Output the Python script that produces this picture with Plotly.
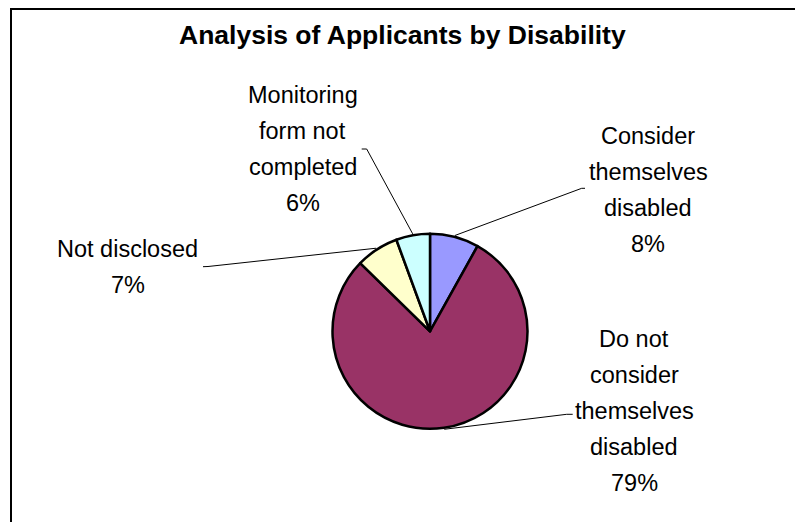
import math
import plotly.graph_objects as go

# ---- data ----
categories = ["Consider themselves disabled", "Do not consider themselves disabled",
              "Not disclosed", "Monitoring form not completed"]
label_lines = [["Consider", "themselves", "disabled"],
               ["Do not", "consider", "themselves", "disabled"],
               ["Not disclosed"],
               ["Monitoring", "form not", "completed"]]
values = [8.1, 79.2, 7.1, 5.6]
colors = ["#9999FF", "#993366", "#FFFFCC", "#CCFFFF"]
title = "Analysis of Applicants by Disability"

# ---- layout constants (window pixels) ----
OFF = 8                      # default page body margin
W, H = 803 - OFF, 522 - OFF  # figure size
CX, CY, R = 430, 331.3, 97.5
FONT = "Liberation Sans, Arial, sans-serif"
FS = 23.5
TFS = 26.5
SPACING = 36

# label block placement: (center x, first baseline y)
label_pos = [(648, 144), (634, 347), (127.5, 257), (302.5, 103)]
# where leader lines meet the labels: (bend point, end point)
leader_end = [((581.7, 188.3), (585, 188.3)),
              ((566.7, 414.3), (572.7, 414.3)),
              ((208, 266.5), (203, 266.7)),
              ((366.7, 149), (361.7, 149))]


def px(x, y):
    return (x - OFF) / W, 1 - (y - OFF) / H


fig = go.Figure()
fig.add_trace(go.Pie(
    labels=categories, values=values, sort=False, direction="clockwise", rotation=0,
    marker=dict(colors=colors, line=dict(color="black", width=2.5)),
    textinfo="none", hoverinfo="label+percent", showlegend=False,
    domain=dict(x=[px(CX - R, 0)[0], px(CX + R, 0)[0]],
                y=[px(0, CY + R)[1], px(0, CY - R)[1]]),
))

annotations = []
shapes = []
total = sum(values)
cum = 0
for i, v in enumerate(values):
    pct = f"{round(100 * v / total)}%"
    lines = label_lines[i] + [pct]
    cx, by = label_pos[i]
    for k, t in enumerate(lines):
        xx, yy = px(cx, by + k * SPACING - 0.36 * FS)
        annotations.append(dict(x=xx, y=yy, xref="paper", yref="paper", text=t,
                                showarrow=False, xanchor="center", yanchor="middle",
                                font=dict(family=FONT, size=FS, color="black")))
    # leader line from slice mid-angle edge to label
    mid = (cum + v / 2) / total * 2 * math.pi
    cum += v
    sx, sy = CX + (R + 1.5) * math.sin(mid), CY - (R + 1.5) * math.cos(mid)
    (bx, byy), (ex, ey) = leader_end[i]
    p = [px(sx, sy), px(bx, byy), px(ex, ey)]
    path = "M {} {} L {} {} L {} {}".format(p[0][0], p[0][1], p[1][0], p[1][1], p[2][0], p[2][1])
    shapes.append(dict(type="path", xref="paper", yref="paper", path=path,
                       line=dict(color="black", width=1)))

# title
tx, ty = px(402, 45 - 0.36 * TFS)
annotations.append(dict(x=tx, y=ty, xref="paper", yref="paper", text="<b>" + title + "</b>",
                        showarrow=False, xanchor="center", yanchor="middle",
                        font=dict(family=FONT, size=TFS, color="black")))

# chart frame (left and top edges visible)
f = [px(11, 530), px(11, 9), px(810, 9)]
shapes.append(dict(type="path", xref="paper", yref="paper",
                   path="M {} {} L {} {} L {} {}".format(f[0][0], f[0][1], f[1][0], f[1][1], f[2][0], f[2][1]),
                   line=dict(color="black", width=2)))

fig.update_layout(width=W, height=H, margin=dict(l=0, r=0, t=0, b=0),
                  paper_bgcolor="white", plot_bgcolor="white",
                  annotations=annotations, shapes=shapes)
fig.write_html("out.html")
